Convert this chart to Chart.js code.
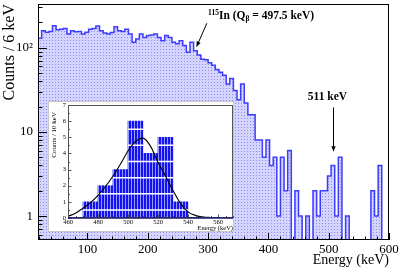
<!DOCTYPE html>
<html lang="en">
<head>
<meta charset="UTF-8">
<title>115In spectrum</title>
<script src="https://cdn.jsdelivr.net/npm/chart.js@4.4.1/dist/chart.umd.min.js"></script>
<style>
  html, body { margin: 0; padding: 0; background: #fff; }
  #wrap { position: relative; width: 399px; height: 270px; }
  #main { position: absolute; left: 0; top: 0; }
  #inset { position: absolute; left: 48px; top: 101px; }
</style>
</head>
<body>
<div id="wrap">
  <canvas id="main" width="399" height="270"></canvas>
  <canvas id="inset" width="186" height="131"></canvas>
</div>
<script>
// main spectrum, 6 keV bins starting at 18 keV
const binLow = 18;
const binWidth = 6;
const counts = [
  129, 159, 152, 156, 182, 163, 166, 169, 145, 159,
  155, 156, 145, 152, 166, 169, 181, 159, 149, 145,
  151, 177, 159, 156, 166, 145, 116, 127, 145, 132,
  139, 141, 145, 132, 121, 139, 132, 116, 111, 121,
  106, 88, 116, 92, 82, 73, 72, 66, 62, 55,
  51, 47, 37, 43, 31, 24, 37, 22, 16, 16,
  8, 8, 5, 8, 4, 5, 1, 5, 2, 6,
  0, 2, 1, 0, 1, 0, 2, 1, 2, 2,
  3, 4, 1, 5, 0, 1, 0, 0, 0, 0,
  0, 0, 2, 1, 4, 0, 0
];
const xTickLabels = [100, 200, 300, 400, 500, 600];
const yTickLabels = { 1: '1', 10: '10', 100: '10\u00B2' };

// inset: 10 keV bins around 511 keV
const insetBins = [475, 485, 495, 505, 515, 525, 535];
const insetCounts = [1, 2, 3, 6, 4, 5, 1];
const fitEnergy = [460, 465, 470, 475, 480, 485, 490, 495, 500, 505, 510, 515,
                   520, 525, 530, 535, 540, 545, 550, 555, 560, 565, 570];
const fitCounts = [0.1, 0.3, 0.6, 0.95, 1.4, 1.95, 2.6, 3.35, 4.15, 4.75, 4.95, 4.45,
                   3.45, 2.6, 1.7, 0.9, 0.38, 0.16, 0.06, 0.03, 0.01, 0.005, 0];
const insetXTicks = [460, 480, 500, 520, 540, 560];

const serif = "'Liberation Serif', 'DejaVu Serif', serif";
Chart.defaults.font.family = serif;
Chart.defaults.color = '#000';

function dotPattern() {
  const c = document.createElement('canvas');
  c.width = 3; c.height = 3;
  const g = c.getContext('2d');
  g.fillStyle = 'rgb(212,212,255)';
  g.fillRect(0, 0, 3, 3);
  g.fillStyle = 'rgb(140,140,240)';
  g.fillRect(1, 1, 1, 1);
  return g.createPattern(c, 'repeat');
}

function stripePattern() {
  const c = document.createElement('canvas');
  c.width = 3; c.height = 1;
  const g = c.getContext('2d');
  g.fillStyle = 'rgb(20,20,240)';
  g.fillRect(0, 0, 3, 1);
  g.fillStyle = 'rgb(150,150,255)';
  g.fillRect(2, 0, 1, 1);
  return g.createPattern(c, 'repeat');
}

function arrow(ctx, x0, y0, x1, y1) {
  const a = Math.atan2(y1 - y0, x1 - x0), L = 5, W = 2.2;
  ctx.beginPath();
  ctx.moveTo(x0, y0);
  ctx.lineTo(x1, y1);
  ctx.stroke();
  ctx.beginPath();
  ctx.moveTo(x1, y1);
  ctx.lineTo(x1 - L * Math.cos(a) + W * Math.sin(a), y1 - L * Math.sin(a) - W * Math.cos(a));
  ctx.lineTo(x1 - L * Math.cos(a) - W * Math.sin(a), y1 - L * Math.sin(a) + W * Math.cos(a));
  ctx.closePath();
  ctx.fill();
}

// zero bins go below the log axis so the outline drops to the frame
const floorValue = 0.1;
const stepPts = counts.map((c, i) => ({ x: binLow + i * binWidth, y: c > 0 ? c : floorValue }));
stepPts.push({ x: binLow + counts.length * binWidth, y: stepPts[stepPts.length - 1].y });

const mainAxes = {
  id: 'mainAxes',
  afterDraw(chart) {
    const { ctx, chartArea: a, scales: { x, y } } = chart;
    ctx.save();
    ctx.strokeStyle = '#000';
    ctx.lineWidth = 1;
    ctx.strokeRect(a.left + 0.5, a.top + 0.5, a.right - a.left - 1, a.bottom - a.top - 1);
    ctx.beginPath();
    for (let e = 20; e <= 600; e += 20) {
      const px = Math.round(x.getPixelForValue(e)) + 0.5;
      const len = e % 100 === 0 ? 7 : 3.5;
      ctx.moveTo(px, a.bottom);
      ctx.lineTo(px, a.bottom - len);
    }
    for (const d of [0.1, 1, 10, 100]) {
      for (let m = 1; m <= 9; m++) {
        const v = m * d;
        if (v < y.min || v > y.max) continue;
        const py = Math.round(y.getPixelForValue(v)) + 0.5;
        const len = m === 1 ? 9 : 4.5;
        ctx.moveTo(a.left, py);
        ctx.lineTo(a.left + len, py);
      }
    }
    ctx.stroke();

    // 115In label
    ctx.fillStyle = '#000';
    ctx.textBaseline = 'middle';
    ctx.textAlign = 'left';
    let tx = x.getPixelForValue(300);
    const ty = y.getPixelForValue(240);
    const big = 'bold 11.5px ' + serif, small = 'bold 7.5px ' + serif;
    ctx.font = small; ctx.fillText('115', tx, ty - 3); tx += ctx.measureText('115').width;
    ctx.font = big; ctx.fillText('In (Q', tx, ty); tx += ctx.measureText('In (Q').width;
    ctx.font = small; ctx.fillText('\u03B2', tx, ty + 3); tx += ctx.measureText('\u03B2').width;
    ctx.font = big; ctx.fillText(' = 497.5 keV)', tx, ty);
    arrow(ctx, x.getPixelForValue(298), y.getPixelForValue(195), x.getPixelForValue(281), y.getPixelForValue(103));

    // 511 keV label
    ctx.textAlign = 'center';
    ctx.font = big;
    ctx.fillText('511 keV', x.getPixelForValue(498), y.getPixelForValue(26));
    const ax = Math.round(x.getPixelForValue(507)) + 0.5;
    arrow(ctx, ax, y.getPixelForValue(19.5), ax, y.getPixelForValue(5.9));
    ctx.restore();
  }
};

new Chart(document.getElementById('main'), {
  type: 'line',
  data: {
    datasets: [{
      data: stepPts,
      stepped: 'before',
      fill: 'start',
      backgroundColor: dotPattern(),
      borderColor: '#3c3cff',
      borderWidth: 1.5,
      pointRadius: 0
    }]
  },
  options: {
    responsive: false,
    animation: false,
    layout: { padding: { left: 0, right: 10, top: 4, bottom: 0 } },
    plugins: { legend: { display: false }, tooltip: { enabled: false } },
    scales: {
      x: {
        type: 'linear', min: 18, max: 600,
        grid: { display: false, drawTicks: false },
        border: { display: false },
        ticks: {
          stepSize: 100, includeBounds: false, autoSkip: false, maxRotation: 0, padding: 2,
          font: { size: 13 },
          callback: v => xTickLabels.includes(v) ? String(v) : ''
        },
        title: { display: true, text: 'Energy (keV)', align: 'end', font: { size: 14 }, padding: { top: 0, bottom: 1 } },
        afterFit: s => { s.height = 30; s.paddingLeft = 0; s.paddingRight = 0; }
      },
      y: {
        type: 'logarithmic', min: 0.52, max: 330,
        grid: { display: false, drawTicks: false },
        border: { display: false },
        ticks: {
          autoSkip: false, padding: 5,
          font: { size: 13 },
          callback: v => yTickLabels[v] || ''
        },
        title: { display: true, text: 'Counts / 6 keV', align: 'end', font: { size: 16 }, padding: 0 },
        afterFit: s => { s.width = 38; s.paddingTop = 0; s.paddingBottom = 0; }
      }
    }
  },
  plugins: [mainAxes]
});

const insetAxes = {
  id: 'insetAxes',
  beforeDraw(chart) {
    const { ctx, width, height } = chart;
    ctx.save();
    ctx.fillStyle = '#fff';
    ctx.fillRect(0, 0, width, height);
    ctx.strokeStyle = '#c8c8c8';
    ctx.strokeRect(0.5, 0.5, width - 1, height - 1);
    ctx.restore();
  },
  afterDatasetDraw(chart, args) {
    if (args.meta.type !== 'bar') return;
    const { ctx, scales: { y } } = chart;
    ctx.save();
    ctx.strokeStyle = '#fff';
    ctx.lineWidth = 1.5;
    ctx.beginPath();
    args.meta.data.forEach((el, i) => {
      for (let n = 0; n + 0.5 < insetCounts[i]; n++) {
        const py = y.getPixelForValue(n + 0.5);
        ctx.moveTo(el.x - el.width / 2, py);
        ctx.lineTo(el.x + el.width / 2, py);
      }
    });
    ctx.stroke();
    ctx.restore();
  },
  afterDraw(chart) {
    const { ctx, chartArea: a, scales: { x, y } } = chart;
    ctx.save();
    ctx.strokeStyle = '#555';
    ctx.lineWidth = 1;
    ctx.strokeRect(a.left + 0.5, a.top + 0.5, a.right - a.left - 1, a.bottom - a.top - 1);
    ctx.beginPath();
    for (let e = 460; e <= 570; e += 5) {
      const px = Math.round(x.getPixelForValue(e)) + 0.5;
      const len = e % 20 === 0 ? 3.5 : 2;
      ctx.moveTo(px, a.bottom);
      ctx.lineTo(px, a.bottom - len);
    }
    for (let v = 0; v <= 7; v += 0.5) {
      const py = Math.round(y.getPixelForValue(v)) + 0.5;
      const len = v % 1 === 0 ? 3.5 : 2;
      ctx.moveTo(a.left, py);
      ctx.lineTo(a.left + len, py);
    }
    ctx.stroke();
    ctx.strokeStyle = '#1a1a6e';
    ctx.lineWidth = 1.5;
    ctx.beginPath();
    ctx.moveTo(a.left, a.bottom);
    ctx.lineTo(a.right, a.bottom);
    ctx.stroke();

    ctx.fillStyle = '#000';
    ctx.font = '7px ' + serif;
    ctx.translate(a.left - 14, a.top + 7);
    ctx.rotate(-Math.PI / 2);
    ctx.textAlign = 'right';
    ctx.textBaseline = 'middle';
    ctx.fillText('Counts / 10 keV', 0, 0);
    ctx.restore();
  }
};

new Chart(document.getElementById('inset'), {
  type: 'bar',
  data: {
    datasets: [
      {
        type: 'line',
        data: fitEnergy.map((e, i) => ({ x: e, y: fitCounts[i] })),
        borderColor: '#000', borderWidth: 1.1, pointRadius: 0,
        cubicInterpolationMode: 'monotone', fill: false, order: 0
      },
      {
        type: 'bar',
        data: insetBins.map((e, i) => ({ x: e, y: insetCounts[i] })),
        backgroundColor: stripePattern(),
        barPercentage: 1, categoryPercentage: 1, borderWidth: 0, order: 1
      }
    ]
  },
  options: {
    responsive: false,
    animation: false,
    layout: { padding: { left: 0, right: 1, top: 4, bottom: 0 } },
    plugins: { legend: { display: false }, tooltip: { enabled: false } },
    scales: {
      x: {
        type: 'linear', min: 460, max: 570, offset: false,
        grid: { display: false, drawTicks: false },
        border: { display: false },
        ticks: {
          stepSize: 20, includeBounds: false, autoSkip: false, maxRotation: 0, padding: 0,
          font: { size: 6.5 },
          callback: v => insetXTicks.includes(v) ? String(v) : ''
        },
        title: { display: true, text: 'Energy (keV)', align: 'end', font: { size: 6.5 }, padding: { top: 0, bottom: 0 } },
        afterFit: s => { s.height = 14; s.paddingLeft = 0; s.paddingRight = 0; }
      },
      y: {
        type: 'linear', min: 0, max: 7,
        grid: { display: false, drawTicks: false },
        border: { display: false },
        ticks: { stepSize: 1, padding: 2, font: { size: 6.5 } },
        afterFit: s => { s.width = 20; s.paddingTop = 0; s.paddingBottom = 0; }
      }
    }
  },
  plugins: [insetAxes]
});
</script>
</body>
</html>
